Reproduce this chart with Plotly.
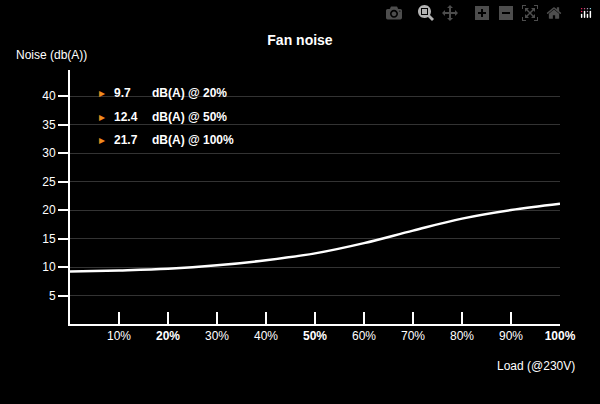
import plotly.graph_objects as go

load = [0, 10, 20, 30, 40, 50, 60, 70, 80, 90, 100]
noise = [9.2, 9.4, 9.7, 10.3, 11.2, 12.4, 14.2, 16.4, 18.5, 20.0, 21.1]
tick_vals = [10, 20, 30, 40, 50, 60, 70, 80, 90, 100]
tick_text = ["10%", "<b>20%</b>", "30%", "40%", "<b>50%</b>", "60%", "70%", "80%", "90%", "<b>100%</b>"]
y_ticks = [5, 10, 15, 20, 25, 30, 35, 40]
legend_vals = ["9.7", "12.4", "21.7"]
legend_loads = ["20%", "50%", "100%"]

F = "Liberation Sans, Arial, sans-serif"
fig = go.Figure(go.Scatter(x=load, y=noise, mode="lines", line=dict(color="white", width=2.5, shape="spline"), hoverinfo="skip"))
fig.update_layout(
    width=600, height=404, paper_bgcolor="black", plot_bgcolor="black",
    margin=dict(l=70, r=40, t=70, b=80), showlegend=False,
    font=dict(family=F, color="white", size=12),
    title=dict(text="<b>Fan noise</b>", x=0.5, xanchor="center", y=0.9, yanchor="middle", font=dict(size=14, color="white")),
)
fig.update_xaxes(range=[0, 100], tickvals=tick_vals, ticktext=tick_text, ticks="inside", ticklen=12, tickwidth=2,
                 tickcolor="white", showline=True, linecolor="white", linewidth=2, showgrid=False, zeroline=False,
                 tickfont=dict(size=12, color="white"))
fig.update_yaxes(range=[0, 44.6], tickvals=y_ticks, ticks="outside", ticklen=10, tickwidth=1.5, tickcolor="white",
                 showline=True, linecolor="white", linewidth=2, showgrid=True, gridcolor="#333333", gridwidth=0.5,
                 zeroline=False, tickfont=dict(size=12, color="white"))
fig.add_annotation(text="Noise (db(A))", xref="paper", yref="paper", x=-0.115, y=1.06, xanchor="left", yanchor="middle", showarrow=False, font=dict(size=12))
fig.add_annotation(text="Load (@230V)", xref="paper", yref="paper", x=1.035, y=-0.165, xanchor="right", yanchor="middle", showarrow=False, font=dict(size=12))
for i, (v, l) in enumerate(zip(legend_vals, legend_loads)):
    yy = 40.5 - i * 4.1
    fig.add_annotation(text="<span style='color:#f08c1e'>▸</span>", x=6.5, y=yy, xanchor="center", yanchor="middle", showarrow=False, font=dict(size=12))
    fig.add_annotation(text=f"<b>{v}</b>", x=8.5, y=yy, xanchor="left", yanchor="middle", showarrow=False, font=dict(size=12))
    fig.add_annotation(text=f"<b>dB(A) @ {l}</b>", x=16.3, y=yy, xanchor="left", yanchor="middle", showarrow=False, font=dict(size=12))
fig.write_html("out.html", post_script="document.body.style.margin='0';document.body.style.background='black';")
